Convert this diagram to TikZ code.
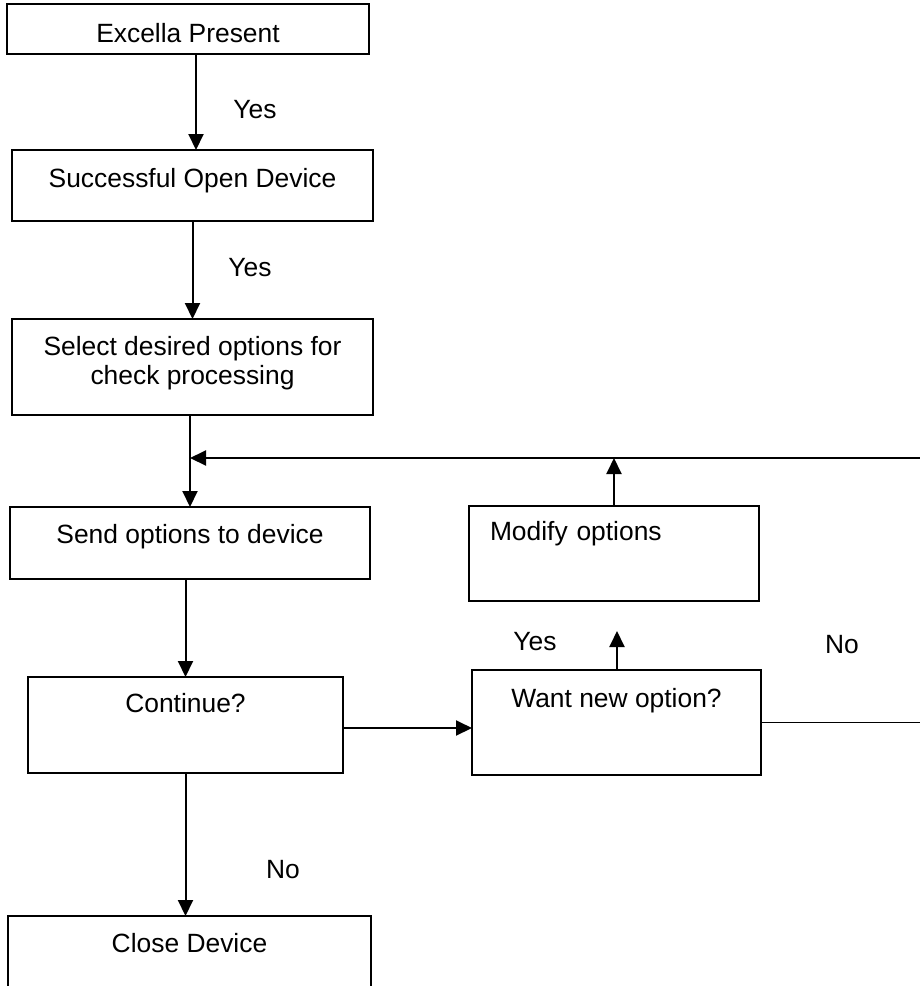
\documentclass[tikz,border=0pt]{standalone}
\usepackage{fontspec}
\setmainfont{Liberation Sans}
\usepackage{tikz}
\usetikzlibrary{positioning, arrows.meta}

\begin{document}
\begin{tikzpicture}[x=0.5pt, y=-0.5pt, font=\fontsize{13.2}{14.5}\selectfont,
  box/.style={draw, line width=0.7pt, anchor=north, inner sep=0pt, outer sep=0pt, align=center},
  arr/.style={line width=1pt, -{Triangle[length=8pt, width=7.5pt]}}]
\useasboundingbox (0,0) rectangle (920,986);
\node[box, minimum width=181pt, text height=19pt, text depth=6pt] (excella) at (188,4) {Excella Present};
\node[box, minimum width=180.5pt, text height=18.5pt, text depth=17pt] (opendev) at (192.5,150) {Successful Open Device};
\node[box, minimum width=180.5pt, text height=32.5pt, text depth=15.5pt] (select) at (192.5,319) {Select desired options for\\check processing};
\node[box, minimum width=180pt, text height=18pt, text depth=18pt] (send) at (190,507) {Send options to device};
\node[box, text width=124pt, inner xsep=10.5pt, align=left, text height=17pt, text depth=30.5pt] (modify) at (614,506) {Modify options};
\node[box, minimum width=144.5pt, text height=18.5pt, text depth=34pt] (want) at (616.5,670) {Want new option?};
\node[box, minimum width=157.5pt, text height=17.5pt, text depth=30.5pt] (cont) at (185.5,677) {Continue?};
\node[box, minimum width=181.5pt, text height=18pt, text depth=50pt] (close) at (189.5,916) {Close Device};
\node (yesA) at (255,110) {Yes};
\node (yesB) at (250,268) {Yes};
\node (yesC) at (535,642) {Yes};
\node (noA) at (842,645) {No};
\node (noB) at (283,870) {No};
\coordinate (loopR) at (940,458);
\coordinate (upto) at (617,631);
\draw[arr] ([xshift=4pt]excella.south) -- ([xshift=4pt]excella.south |- opendev.north);
\draw[arr] (opendev.south) -- (opendev.south |- select.north);
\draw[arr] (send.north |- select.south) -- (send.north);
\draw[arr] (cont.north |- send.south) -- (cont.north);
\draw[arr] (cont.south) -- (cont.south |- close.north);
\draw[arr] ([yshift=-1.5pt]cont.east) -- ([yshift=-1.5pt]cont.east -| want.west);
\draw[arr] (want.north -| upto) -- (upto);
\draw[arr] (modify.north) -- (modify.north |- loopR);
\draw[line width=0.7pt] (want.east) -- (want.east -| loopR) -- (loopR);
\draw[arr] (loopR) -- (loopR -| send.north);
\end{tikzpicture}
\end{document}
